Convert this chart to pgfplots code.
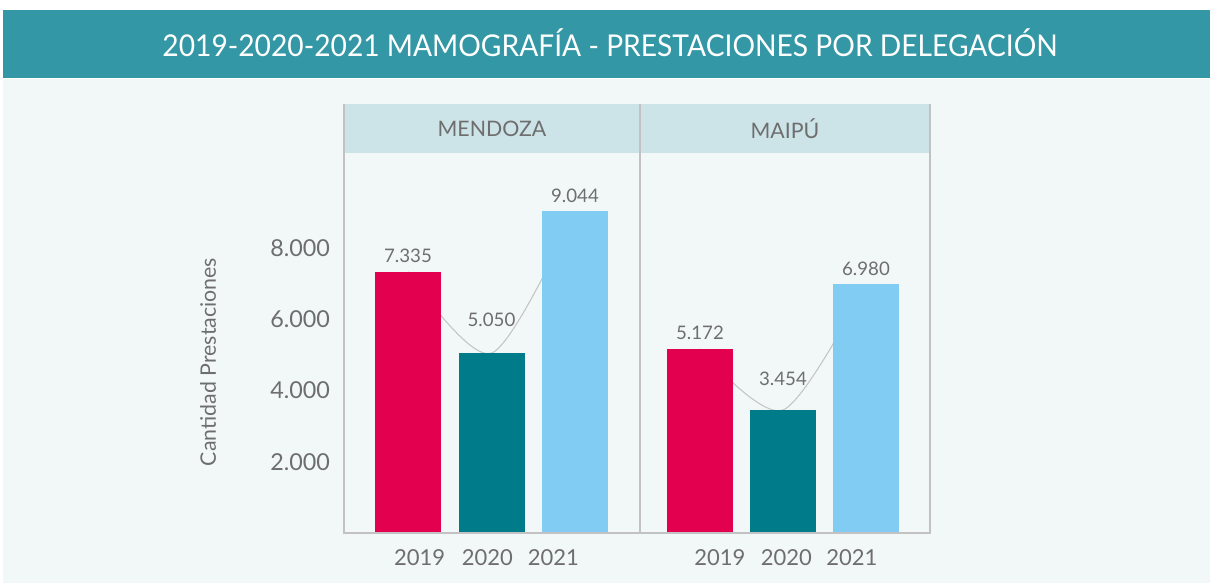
\documentclass[border=0pt]{standalone}
\usepackage{pgfplots}
\pgfplotsset{compat=1.18}
\usepackage{fontspec}
\setmainfont{Lato}
\newfontfamily\titlefont[FakeStretch=0.94]{Lato}
\definecolor{banner}{HTML}{3397A5}
\definecolor{bgc}{HTML}{F2F8F8}
\definecolor{strip}{HTML}{CCE4E8}
\definecolor{cred}{HTML}{E3004F}
\definecolor{cteal}{HTML}{007B8A}
\definecolor{cblue}{HTML}{80CCF2}
\definecolor{txt}{HTML}{6E6E6E}
\definecolor{framec}{HTML}{C2C2C2}
\definecolor{curve}{HTML}{C4C4C4}
\pgfplotsset{
  panel/.style={
    scale only axis, height=285pt, ymin=0, ymax=10670,
    scaled y ticks=false,
    axis line style={draw=none}, major tick length=0pt,
    ytick={2000,4000,6000,8000},
    xticklabels={2019,2020,2021},
    xticklabel style={font=\fontsize{16.5}{19}\selectfont, text=txt, yshift=-9pt},
    yticklabel style={font=\fontsize{17.5}{20}\selectfont, text=txt, xshift=-7pt},
    clip=false,
  },
  barsty/.style={ybar, bar width=49.5pt, draw=none, nodes near coords, point meta=explicit symbolic,
    nodes near coords style={font=\fontsize{14}{17}\selectfont, text=txt, yshift=#1}},
}
\begin{document}
\begin{tikzpicture}[x=1pt,y=1pt]
\fill[white] (0,0) rectangle (907.5,437.25);
\useasboundingbox (0,0) rectangle (907.5,437.25);
\fill[bgc] (2,0) rectangle (907.5,378);
\fill[banner] (2,378.75) rectangle (907.5,429.75);
\node[text=white, font=\titlefont\fontsize{22.5}{26}\selectfont] at (457.5,405) {2019-2020-2021 MAMOGRAFÍA - PRESTACIONES POR DELEGACIÓN};
\fill[strip] (258,322.5) rectangle (697.5,359.25);

\begin{axis}[panel, at={(258pt,37.5pt)}, anchor=south west, width=222pt,
  xmin=-0.766, xmax=2.778, xtick={0.14,0.95,1.74},
  yticklabels={2.000,4.000,6.000,8.000},
  ylabel={Cantidad Prestaciones},
  ylabel style={at={(axis description cs:-0.459,0.45)}, anchor=center, font=\fontsize{16}{19}\selectfont, text=txt}]
\addplot[smooth, draw=curve, line width=0.8pt] coordinates {(0,7335) (1,5050) (2,9044)};
\addplot[barsty=3pt, fill=cred] coordinates {(0,7335) [7.335]};
\addplot[barsty=16.5pt, fill=cteal] coordinates {(1,5050) [5.050]};
\addplot[barsty=3pt, fill=cblue] coordinates {(2,9044) [9.044]};
\node[anchor=center, font=\fontsize{16}{19}\selectfont, text=txt] at (axis description cs:0.5,1.063) {MENDOZA};
\end{axis}

\begin{axis}[panel, at={(480pt,37.5pt)}, anchor=south west, width=217.5pt,
  xmin=-0.723, xmax=2.771, xtick={0.24,1.04,1.83},
  yticklabels={}]
\addplot[smooth, draw=curve, line width=0.8pt] coordinates {(0,5172) (1,3454) (2,6980)};
\addplot[barsty=3pt, fill=cred] coordinates {(0,5172) [5.172]};
\addplot[barsty=14.5pt, fill=cteal] coordinates {(1,3454) [3.454]};
\addplot[barsty=3pt, fill=cblue] coordinates {(2,6980) [6.980]};
\node[anchor=center, font=\fontsize{16}{19}\selectfont, text=txt] at (axis description cs:0.5,1.063) {MAIPÚ};
\end{axis}

\draw[framec, line width=1pt] (258,359.25) -- (258,37.5) -- (697.5,37.5) -- (697.5,359.25);
\draw[framec, line width=1pt] (480,359.25) -- (480,37.5);
\end{tikzpicture}
\end{document}
